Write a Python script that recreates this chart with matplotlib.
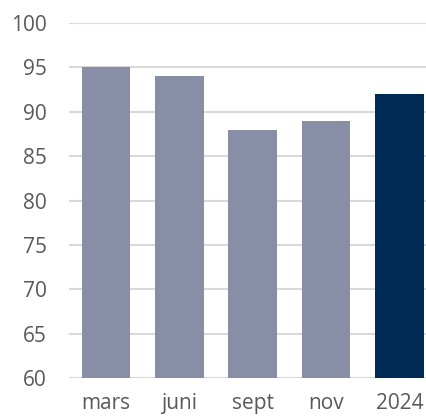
import matplotlib
matplotlib.use("Agg")
import matplotlib.pyplot as plt

categories = ["mars", "juni", "sept", "nov", "2024"]
values = [95, 94, 88, 89, 92]
bar_colors = ["#878ea6", "#878ea6", "#878ea6", "#878ea6", "#002b56"]
y_ticks = [60, 65, 70, 75, 80, 85, 90, 95, 100]

plt.rcParams["font.family"] = ["Open Sans", "DejaVu Sans"]

fig = plt.figure(figsize=(4.26, 4.18), dpi=100)
ax = fig.add_axes([0.1627, 0.0957, 0.861, 0.849])

x = range(len(categories))
ax.bar(x, values, width=0.66, color=bar_colors, zorder=3)

ax.set_ylim(60, 100)
ax.set_xlim(-0.5, 4.5)
ax.set_yticks(y_ticks)
ax.set_xticks(list(x))
ax.set_xticklabels(categories)
ax.grid(axis="y", color="#d9d9d9", linewidth=1.5, zorder=0)
ax.set_axisbelow(True)

for s in ax.spines.values():
    s.set_visible(False)
ax.tick_params(axis="both", length=0, labelsize=15, colors="#595959")
ax.tick_params(axis="y", pad=16)
ax.tick_params(axis="x", pad=11)

fig.savefig("out.png", dpi=100)
